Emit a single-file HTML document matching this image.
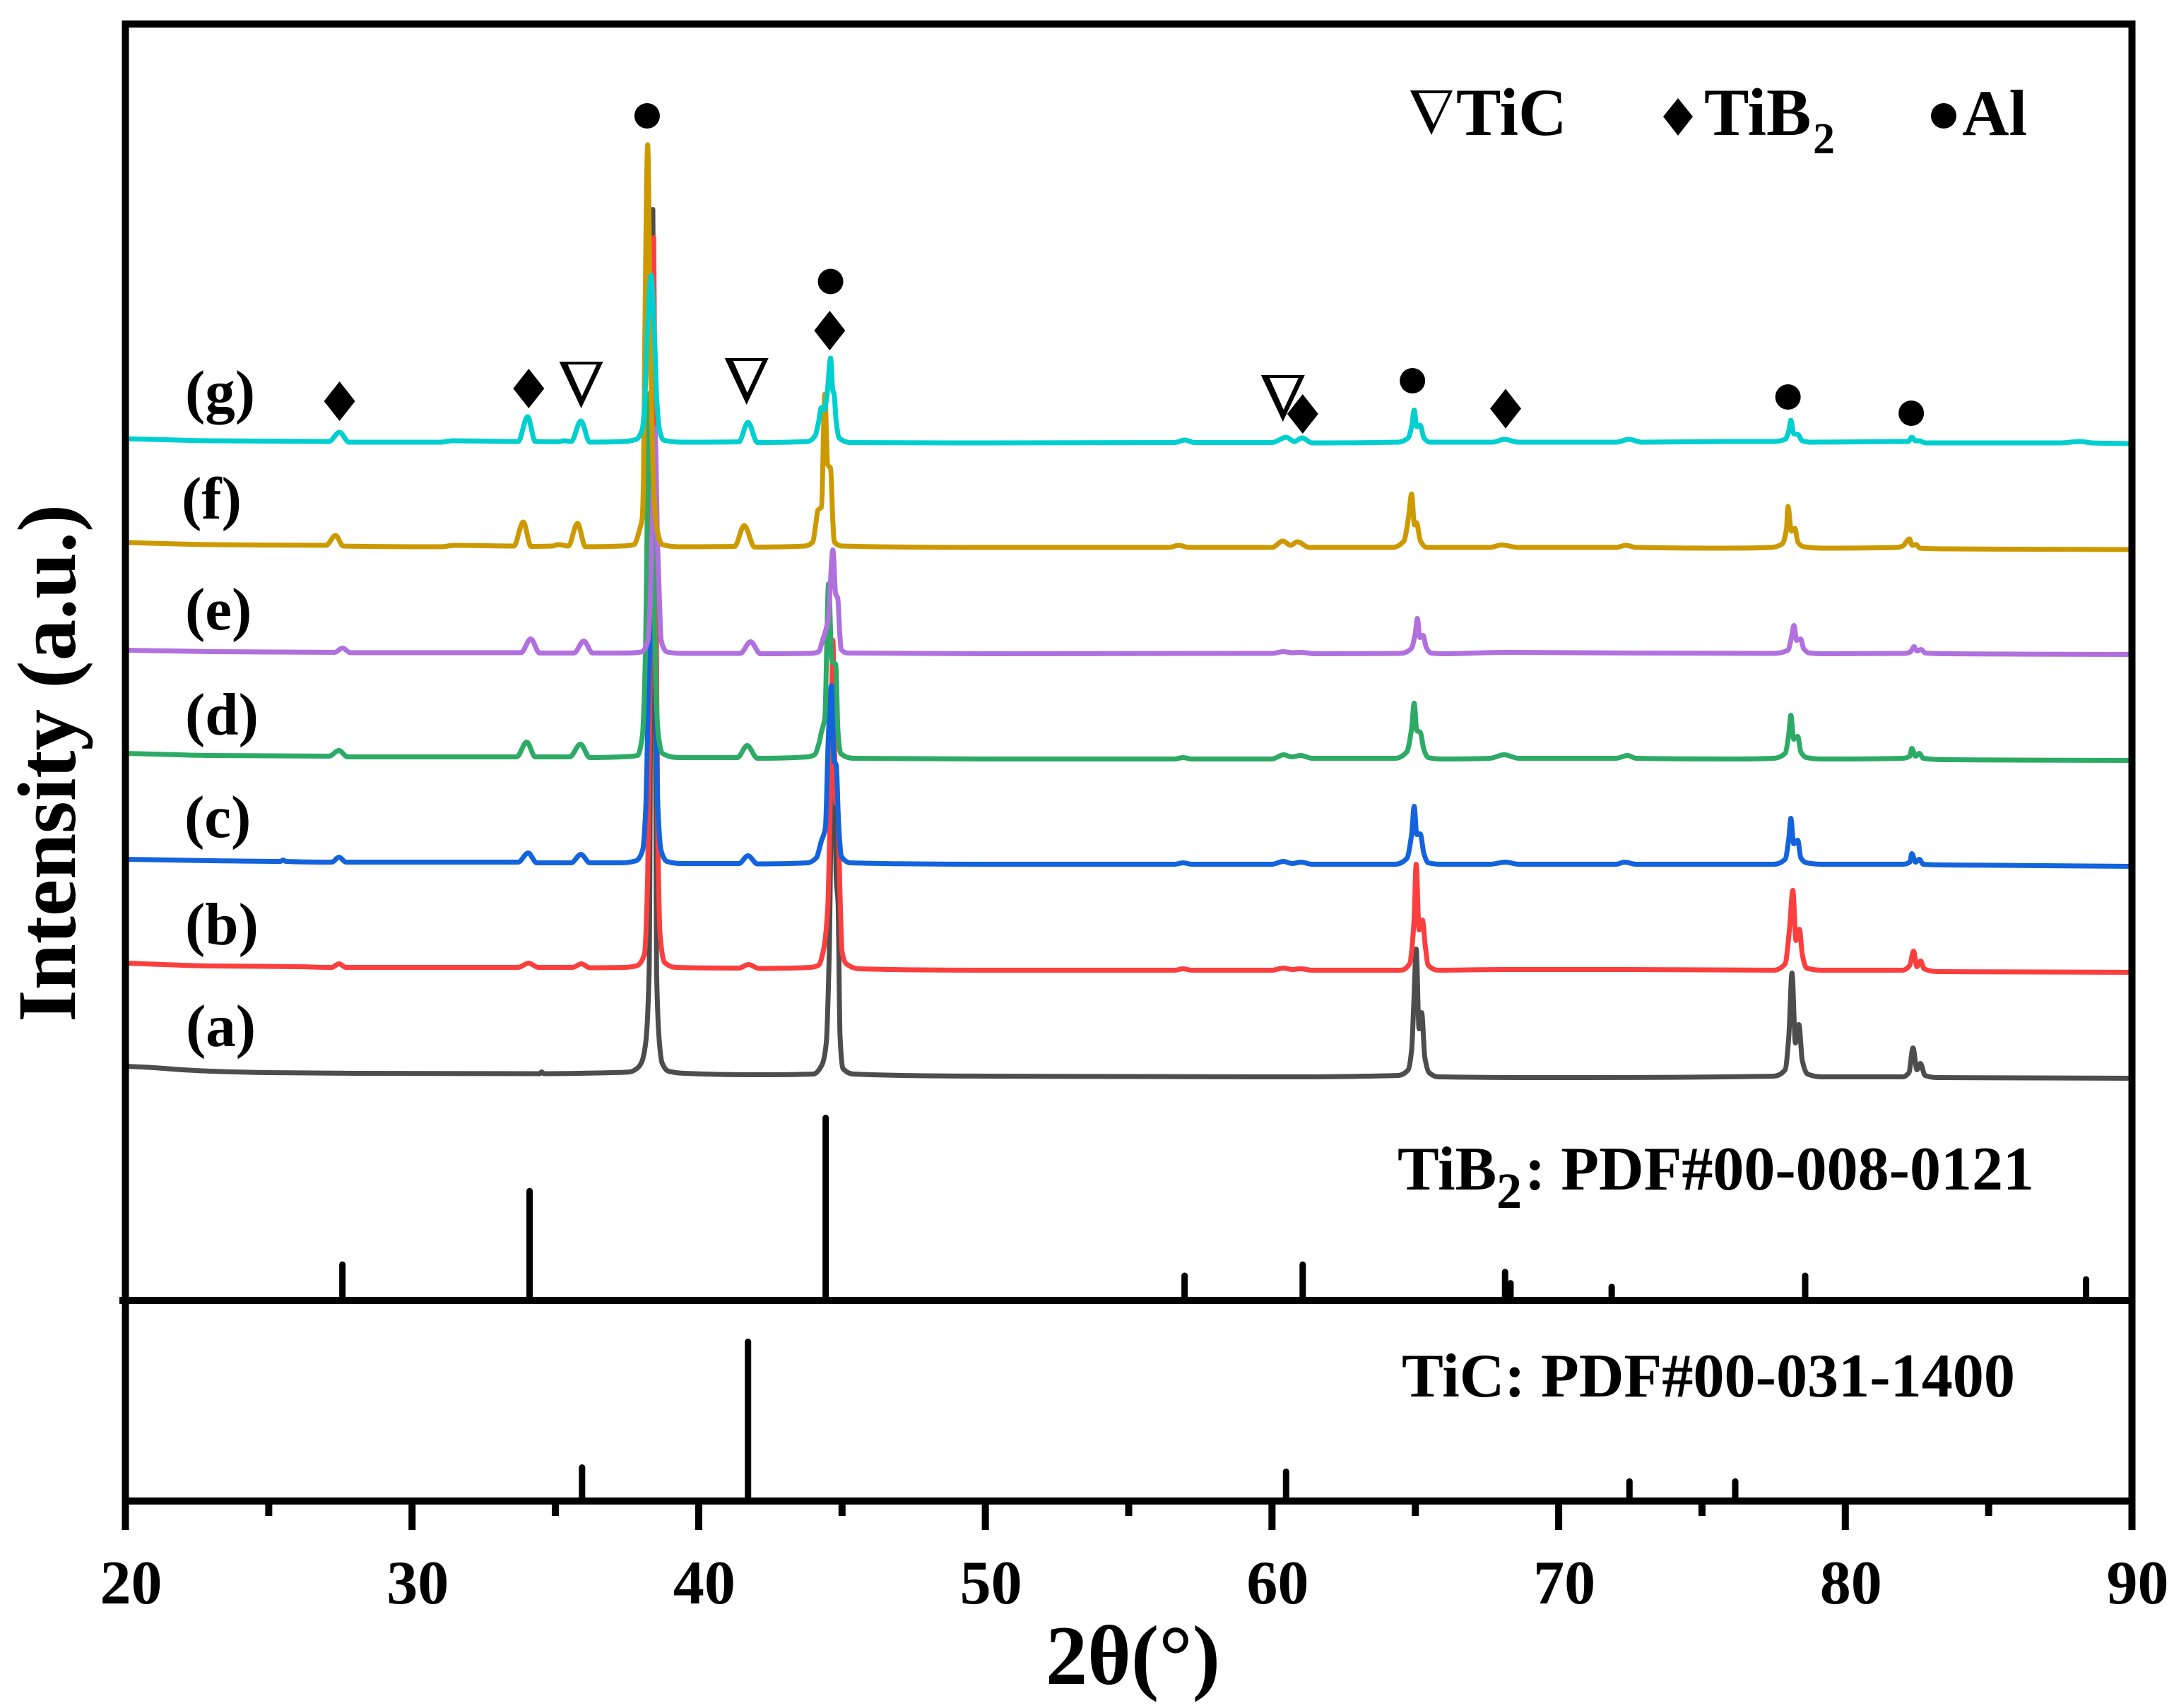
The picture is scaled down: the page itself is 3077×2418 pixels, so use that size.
<!DOCTYPE html>
<html lang="en">
<head>
<meta charset="utf-8">
<title>XRD patterns</title>
<style>
html,body{margin:0;padding:0;background:#fff;}
svg{display:block;}
text{font-family:"Liberation Serif","DejaVu Serif",serif;font-weight:bold;fill:#000;}
</style>
</head>
<body>
<svg id="chart" xmlns="http://www.w3.org/2000/svg" width="3077" height="2418" viewBox="0 0 3077 2418">
<rect x="0" y="0" width="3077" height="2418" fill="#fff"/>
<g id="refs"></g>
<g id="traces"></g>
<g id="axes"></g>
<g id="markers"></g>
<g id="labels"></g>
<text transform="translate(106,1447) rotate(-90)" font-size="118" textLength="733" lengthAdjust="spacingAndGlyphs">Intensity (a.u.)</text>
<text x="1480" y="2384" font-size="120" textLength="247" lengthAdjust="spacingAndGlyphs">2θ(°)</text>
<g>
<path fill-rule="evenodd" d="M1996 128H2056L2026 191ZM2008 132L2029 176L2050 132Z" fill="#000"/>
<text x="2061" y="191" font-size="95">TiC</text>
<polygon points="2375,139 2396,165 2375,192 2354,165" fill="#000"/>
<text x="2412" y="191" font-size="95">TiB</text>
<text x="2566" y="217" font-size="62">2</text>
<ellipse cx="2751" cy="164" rx="18" ry="18" fill="#000"/>
<text x="2777" y="191" font-size="92">Al</text>
</g>
<g>
<text x="1978" y="1684" font-size="88">TiB</text>
<text x="2118" y="1710" font-size="72">2</text>
<text x="2158" y="1684" font-size="88" textLength="721" lengthAdjust="spacingAndGlyphs">: PDF#00-008-0121</text>
</g>
<text x="1984" y="1977" font-size="88" textLength="868" lengthAdjust="spacingAndGlyphs">TiC: PDF#00-031-1400</text>
</svg>
<script>
// Traces: [2-theta in degrees, intensity in a.u. above each trace's own offset]
const traceA = [[20,17],[21,15],[22,12],[23,10],[25,8],[28,7],[34.45,6.5],[34.52,9],[34.6,6.5],[37,8],[37.6,9],[37.85,14],[38.0,22],[38.15,50],[38.27,150],[38.4,1230],[38.53,150],[38.62,55],[38.72,22],[38.95,10],[39.5,7],[42,5],[44,6],[44.3,19],[44.45,50],[44.55,170],[44.69,560],[44.8,280],[44.86,250],[44.93,60],[45.03,14],[45.4,6],[50,3],[60,2],[64.4,4],[64.75,12],[64.87,40],[64.95,110],[65.03,183],[65.13,70],[65.22,93],[65.33,30],[65.48,8],[65.8,2],[70,1],[77.5,3],[77.9,12],[78.03,60],[78.14,149],[78.26,50],[78.38,76],[78.5,25],[78.68,6],[79.2,2],[82,2],[82.22,8],[82.36,43],[82.5,12],[82.62,21],[82.78,4],[83.2,1],[90,0]];
const traceB = [[20,13],[23,9],[26,8],[27.2,7],[27.45,12],[27.7,7],[33.7,7],[34.07,13],[34.4,7],[35.6,7],[35.91,12],[36.2,6.5],[37.4,7],[37.82,9],[38.11,26],[38.22,136],[38.3,400],[38.43,1040],[38.52,500],[38.58,180],[38.65,55],[38.81,14],[39.2,7],[41.4,6],[41.74,11],[42.1,5.5],[43.9,7],[44.18,10],[44.36,33],[44.5,90],[44.6,260],[44.68,470],[44.78,240],[44.85,236],[44.93,110],[45.0,30],[45.15,12],[45.6,5],[50,3],[56.6,3],[56.9,5],[57.2,3],[60,3],[60.4,6],[60.7,4],[61,5],[61.4,3],[64.5,3],[64.8,12],[64.95,70],[65.03,153],[65.13,60],[65.25,74],[65.34,40],[65.45,10],[65.8,3],[68,4],[72.3,4],[77.5,3],[77.9,12],[78.05,60],[78.17,116],[78.28,45],[78.4,61],[78.5,25],[78.65,6],[79.2,3],[82,3],[82.25,10],[82.38,30],[82.5,8],[82.63,16],[82.75,5],[83.2,1],[90,0]];
const traceC = [[20,10],[23,8],[25.4,7],[25.5,9],[25.6,7],[27.2,6],[27.45,13],[27.7,6],[33.7,6],[34.05,19],[34.35,5],[35.55,5],[35.89,17],[36.2,5],[37.3,5],[37.82,8],[38.05,24],[38.15,80],[38.25,250],[38.38,400],[38.5,250],[38.57,90],[38.69,22],[38.89,7],[39.4,4],[41.4,4],[41.72,15],[42.05,3.5],[43.8,5],[44.1,12],[44.28,36],[44.42,55],[44.52,180],[44.63,256],[44.72,150],[44.8,143],[44.88,60],[44.98,14],[45.3,5],[50,3],[56.6,3],[56.9,5],[57.2,3],[60,3],[60.4,7],[60.7,4],[61,6],[61.4,3],[64.3,3],[64.7,11],[64.87,45],[64.96,85],[65.05,45],[65.17,46],[65.3,18],[65.45,5],[65.9,3],[67.6,3],[68.15,6],[68.6,3],[72,3],[72.3,6],[72.7,3],[76.2,3],[77.5,3],[77.9,10],[78.03,40],[78.1,68],[78.2,32],[78.34,37],[78.45,12],[78.65,5],[79.2,3],[82,3],[82.25,6],[82.32,18],[82.45,6],[82.58,10],[82.72,3],[83.5,2],[90,0]];
const traceD = [[20,10],[23,7],[27.1,6],[27.45,14],[27.75,5],[33.65,5],[34.0,26],[34.3,5],[35.5,5],[35.875,23],[36.2,4],[37.3,5],[37.86,7],[38.03,33],[38.15,166],[38.22,400],[38.3,520],[38.4,350],[38.5,110],[38.6,33],[38.73,10],[39.3,4],[41.35,4],[41.69,21],[42.05,3],[43.8,5],[44.04,8],[44.2,25],[44.28,40],[44.4,60],[44.53,250],[44.65,140],[44.78,136],[44.86,40],[44.95,10],[45.4,3],[50,2],[56.6,2],[56.9,4],[57.2,2],[60,2],[60.4,8],[60.7,5],[61,7],[61.4,3],[64.3,3],[64.7,12],[64.87,45],[64.96,81],[65.05,42],[65.17,40],[65.3,15],[65.45,4],[65.9,2],[67.6,3],[68.1,8],[68.6,3],[72,3],[72.4,7],[72.7,3],[76.2,2],[77.5,3],[77.9,10],[78.03,38],[78.1,64],[78.2,30],[78.34,34],[78.45,12],[78.65,4],[79.2,2],[82,3],[82.25,6],[82.32,17],[82.45,6],[82.58,10],[82.72,3],[83.5,1],[90,0]];
const traceE = [[20,6],[23,4],[27.3,3],[27.57,9],[27.85,2.5],[33.8,2.5],[34.14,22],[34.45,2],[35.65,2],[35.99,19],[36.3,2],[37.5,2],[37.99,3.5],[38.23,20],[38.3,66],[38.38,180],[38.47,320],[38.57,150],[38.62,90],[38.69,20],[38.9,3.5],[39.4,1.5],[41.45,1.5],[41.81,18],[42.15,1],[43.9,1.5],[44.19,4],[44.32,20],[44.4,30],[44.52,50],[44.68,148],[44.78,85],[44.85,80],[44.92,30],[44.97,7],[45.2,2],[50,1],[60,1.5],[60.4,4],[60.7,2.5],[61,3],[61.5,1],[64.5,1.5],[64.85,8],[65.0,30],[65.07,51],[65.16,24],[65.27,27],[65.38,10],[65.55,2],[66,1],[68.2,3],[72.5,2],[77.5,1.5],[78,6],[78.12,24],[78.21,41],[78.3,20],[78.44,22],[78.55,8],[78.75,2],[79.2,1],[82.1,1.5],[82.28,4],[82.4,11],[82.5,5],[82.64,7],[82.8,2],[83.5,1],[90,0]];
const traceF = [[20,10],[23,7],[27,6],[27.33,20],[27.6,5],[31,4],[31.5,6],[33.55,5],[33.88,39],[34.15,4.5],[34.9,5],[35.1,7],[35.45,5],[35.77,37],[36.05,4],[37.3,5],[37.74,7],[37.95,30],[38.03,45],[38.07,91],[38.12,300],[38.22,573],[38.33,250],[38.42,100],[38.52,35],[38.73,7],[39.3,4],[41.25,4.5],[41.59,34],[41.95,3.5],[43.7,5],[43.98,11],[44.08,35],[44.16,56],[44.28,60],[44.4,220],[44.5,120],[44.6,115],[44.68,40],[44.73,11],[45,5],[50,3],[56.4,3],[56.75,6],[57.1,3],[60,3],[60.38,12],[60.65,6],[60.88,11],[61.3,3],[64.2,3],[64.6,12],[64.76,45],[64.87,78.5],[64.97,35],[65.04,38],[65.18,12],[65.4,3],[67.6,3],[68.0,6.5],[68.6,3],[72,3],[72.35,6],[72.7,3],[76,2],[77.4,3],[77.8,8],[77.95,30],[78.0,61],[78.12,26],[78.24,30],[78.35,10],[78.55,4],[79.2,2],[81.8,3],[82.0,5],[82.24,15],[82.33,6],[82.47,7],[82.6,2],[83.5,1],[90,0]];
const traceG = [[20,7],[23,4],[27.1,3],[27.47,16],[27.8,2],[31,2],[31.4,4],[33.7,3],[34.03,38],[34.3,3],[35.1,2.5],[35.3,4],[35.55,3],[35.89,32],[36.2,2],[37.4,3],[37.82,6],[38.03,20],[38.12,60],[38.2,150],[38.34,238],[38.46,150],[38.54,60],[38.63,20],[38.77,5],[39.4,2],[41.4,2.5],[41.72,30],[42.05,1.5],[43.8,3],[44.06,11],[44.18,30],[44.28,51],[44.38,48],[44.48,70],[44.6,121],[44.68,75],[44.72,71],[44.8,30],[44.9,8],[45.3,1.5],[50,1],[56.6,1.5],[56.95,5],[57.3,1.5],[60,1.5],[60.5,9],[60.78,3],[61.05,8],[61.4,1],[64.4,2],[64.75,8],[64.88,26],[64.96,47.5],[65.05,24],[65.17,26],[65.3,8],[65.5,2],[67.7,2],[68.1,6],[68.6,2],[72,2],[72.45,6],[72.9,2],[76,3],[77.5,3],[77.9,6],[78.03,18],[78.1,33],[78.2,14],[78.34,13],[78.5,4],[78.8,2],[82,3],[82.2,3],[82.32,9],[82.45,4],[82.58,4],[82.8,1],[87.5,1],[88.2,3],[88.6,1],[90,0]];

const traceNames = ["a","b","c","d","e","f","g"];
const traceValues = [traceA,traceB,traceC,traceD,traceE,traceF,traceG];
const traceOffsets = [314.5,464.5,614.5,764.5,914.5,1063,1213];
const traceColors = ["#4d4d4d","#fb3f3f","#1363dd","#2dab66","#b070dd","#cc9a00","#00cfcf"];

// Reference cards: 2-theta and relative intensity (%)
const tib2Angles = [27.57,34.1,44.43,56.95,61.07,68.13,68.32,71.85,78.6,88.4];
const tib2Intensity = [21,60.6,100,15,21,17,11,9,15,13];
const ticAngles = [35.93,41.72,60.49,72.47,76.16];
const ticIntensity = [22.6,100,20,14,14];

// Axis ticks
const majorTicks = [20,30,40,50,60,70,80,90];
const minorTicks = [25,35,45,55,65,75,85];

// Peak annotations: 2-theta and height above the panel divider in a.u.
const alMarkers = [[38.2,1677],[44.6,1442.5],[64.9,1302],[78,1279],[82.3,1256]];
const tib2Markers = [[27.47,1273],[34.07,1291],[44.57,1373],[61.07,1255],[68.15,1262.5]];
const ticMarkers = [[35.9,1296],[41.67,1301],[60.38,1277]];

const labelTexts = ["(a)","(b)","(c)","(d)","(e)","(f)","(g)"];
const labelX = [263,262,261,262,262,257,262];
const labelY = [1481,1337,1185,1040,891,734,583];

const NS = "http://www.w3.org/2000/svg";
const X0 = 177.5, X1 = 3017.5, DIVIDER = 1841, BOTTOM = 2125;
function xScale(a){ return X0 + (a - 20) * (X1 - X0) / 70; }
function yScale(v){ return DIVIDER - v; }
function tib2Y(p){ return DIVIDER - p * 2.63 + 4.5; }
function ticY(p){ return BOTTOM - p * 2.3 + 4.5; }
function make(tag, parent, attrs){
  const el = document.createElementNS(NS, tag);
  for (const k in attrs) el.setAttribute(k, attrs[k]);
  parent.appendChild(el);
  return el;
}
// Smooth path through the read points without overshooting them.
function monotonePath(xs, ys){
  const n = xs.length, h = [], m = [], t = [];
  for (let i = 0; i < n - 1; i++){
    h[i] = xs[i+1] - xs[i];
    m[i] = (ys[i+1] - ys[i]) / h[i];
  }
  t[0] = m[0];
  t[n-1] = m[n-2];
  for (let i = 1; i < n - 1; i++){
    if (m[i-1] * m[i] <= 0) { t[i] = 0; continue; }
    t[i] = 3 * (h[i-1] + h[i]) / ((2*h[i] + h[i-1]) / m[i-1] + (h[i] + 2*h[i-1]) / m[i]);
  }
  let d = "M" + xs[0].toFixed(2) + " " + ys[0].toFixed(2);
  for (let i = 0; i < n - 1; i++){
    d += "C" + (xs[i] + h[i]/3).toFixed(2) + " " + (ys[i] + t[i]*h[i]/3).toFixed(2) +
         " " + (xs[i+1] - h[i]/3).toFixed(2) + " " + (ys[i+1] - t[i+1]*h[i]/3).toFixed(2) +
         " " + xs[i+1].toFixed(2) + " " + ys[i+1].toFixed(2);
  }
  return d;
}

const tracesG = document.getElementById("traces");
traceValues.forEach(function(pts, i){
  const xs = pts.map(function(p){ return xScale(p[0]); });
  const ys = pts.map(function(p){ return yScale(traceOffsets[i] + p[1]); });
  const path = make("path", tracesG, {d:monotonePath(xs, ys), fill:"none", stroke:traceColors[i], "stroke-width":7, "stroke-linejoin":"round"});
  
  
});

const refsG = document.getElementById("refs");
tib2Angles.forEach(function(a, i){
  const s = make("line", refsG, {x1:xScale(a), x2:xScale(a), y1:DIVIDER, y2:tib2Y(tib2Intensity[i]), stroke:"#000", "stroke-width":9, "stroke-linecap":"round"});
  
  
});
ticAngles.forEach(function(a, i){
  const s = make("line", refsG, {x1:xScale(a), x2:xScale(a), y1:BOTTOM, y2:ticY(ticIntensity[i]), stroke:"#000", "stroke-width":9, "stroke-linecap":"round"});
  
  
});

const axesG = document.getElementById("axes");
const leftAxis = make("rect", axesG, {x:172.5, y:29, width:10, height:2137, fill:"#000"});


const rightAxis = make("rect", axesG, {x:3012.5, y:29, width:10, height:2137, fill:"#000"});


const topAxis = make("rect", axesG, {x:172.5, y:29, width:2850, height:10, fill:"#000"});


const dividerAxis = make("rect", axesG, {x:169, y:1836, width:2853, height:10, fill:"#000"});


const bottomAxis = make("rect", axesG, {x:172.5, y:2120, width:2850, height:10, fill:"#000"});



majorTicks.forEach(function(a){
  const t = make("rect", axesG, {x:xScale(a) - 5, y:BOTTOM, width:10, height:41, fill:"#000"});
  
  
  const l = make("text", axesG, {x:xScale(a) + 8, y:2270, "font-size":88, "text-anchor":"middle"});
  
  
  l.textContent = String(a);
});
minorTicks.forEach(function(a){
  const t = make("rect", axesG, {x:xScale(a) - 5, y:BOTTOM, width:10, height:21, fill:"#000"});
  
  
});

const markersG = document.getElementById("markers");
alMarkers.forEach(function(m){
  const c = make("ellipse", markersG, {cx:xScale(m[0]), cy:yScale(m[1]), rx:18, ry:18, fill:"#000"});
  
  
});
tib2Markers.forEach(function(m){
  const x = xScale(m[0]), y = yScale(m[1]);
  const c = make("polygon", markersG, {points:[x,y-28,x+22,y,x,y+28,x-22,y].join(" "), fill:"#000"});
  
  
});
ticMarkers.forEach(function(m){
  const x = xScale(m[0]), y = yScale(m[1]);
  const d = "M"+(x-31)+" "+(y-33)+"H"+(x+31)+"L"+x+" "+(y+33)+"Z"+
            "M"+(x-19)+" "+(y-29)+"L"+(x+1)+" "+(y+16)+"L"+(x+22)+" "+(y-29)+"Z";
  const c = make("path", markersG, {d:d, "fill-rule":"evenodd", fill:"#000"});
  
  
});

const labelsG = document.getElementById("labels");
labelTexts.forEach(function(t, i){
  const l = make("text", labelsG, {x:labelX[i], y:labelY[i], "font-size":85});
  
  
  l.textContent = t;
});
</script>
</body>
</html>
